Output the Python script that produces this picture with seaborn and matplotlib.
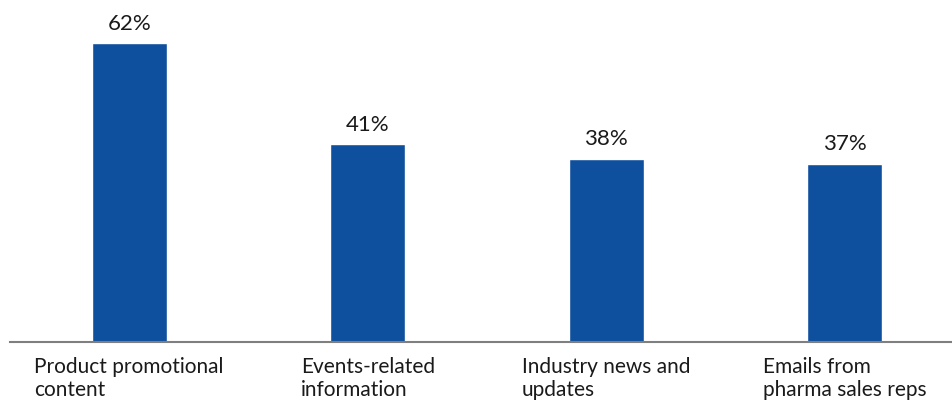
import matplotlib
matplotlib.use("Agg")
import matplotlib.pyplot as plt
import seaborn as sns
import pandas as pd

categories = ["Product promotional\ncontent", "Events-related\ninformation",
              "Industry news and\nupdates", "Emails from\npharma sales reps"]
values = [62, 41, 38, 37]
value_labels = ["62%", "41%", "38%", "37%"]

sns.set_theme(style="white")
plt.rcParams["font.family"] = ["Lato", "DejaVu Sans"]

df = pd.DataFrame({"category": categories, "value": values})

fig = plt.figure(figsize=(9.52, 4.01), dpi=100)
ax = fig.add_axes([10 / 952, (401 - 341.5) / 401, 942 / 952, 341.5 / 401])

sns.barplot(data=df, x="category", y="value", color="#0E4F9E",
            width=0.315, saturation=1, ax=ax)

ax.set_xlim(-0.5, 3.45)
ax.set_ylim(0, 71)

for patch, lab in zip(ax.patches, value_labels):
    ax.annotate(lab, (patch.get_x() + patch.get_width() / 2, patch.get_height()),
                xytext=(0, 7), textcoords="offset points", ha="center", va="bottom",
                fontsize=16, color="#1a1a1a")

ax.set_xlabel("")
ax.set_ylabel("")
ax.set_yticks([])
ax.tick_params(axis="x", length=0, pad=11)
for t in ax.get_xticklabels():
    t.set_fontsize(15)
    t.set_color("#1a1a1a")
    t.set_multialignment("left")
    t.set_verticalalignment("top")
    t.set_linespacing(1.2)

for side in ["top", "left", "right"]:
    ax.spines[side].set_visible(False)
ax.spines["bottom"].set_color("#7f7f7f")
ax.spines["bottom"].set_linewidth(1.5)

fig.savefig("out.png", dpi=100)
